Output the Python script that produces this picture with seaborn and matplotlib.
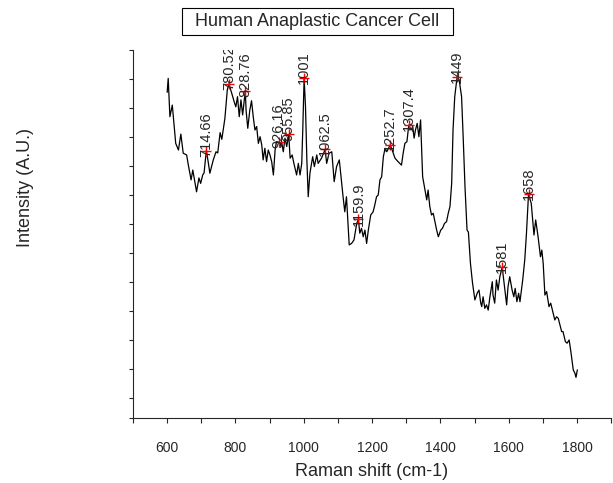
import matplotlib
matplotlib.use("Agg")
import matplotlib.pyplot as plt
from matplotlib.patches import Rectangle
import numpy as np
import pandas as pd
import seaborn as sns

# Raman spectrum (intensity in tick units)
shift = [
    600, 603, 608, 615, 625, 633, 640, 647, 657, 662, 670, 675, 681, 686, 693, 698,
    704, 708, 714.66, 720, 725, 735, 743, 748, 755, 760, 769, 776, 780.52, 789, 796,
    801, 806, 811, 816, 821, 828.76, 831, 836, 842, 847, 852, 857, 862, 867, 872,
    877, 881, 886, 891, 896, 901, 906, 911, 916, 920, 926.16, 930, 935, 940, 945,
    950, 955.85, 960, 966, 971, 979, 984, 989, 994, 997, 1001, 1005, 1009, 1013,
    1018, 1026, 1031, 1038, 1042, 1052, 1062.5, 1067, 1074, 1082, 1089, 1096, 1104,
    1111, 1115, 1120, 1125, 1129, 1133, 1140, 1147, 1155, 1159.9, 1164, 1169, 1174,
    1179, 1184, 1189, 1196, 1203, 1208, 1213, 1218, 1223, 1228, 1233, 1238, 1243,
    1252.7, 1257, 1267, 1276, 1286, 1291, 1296, 1302, 1307.4, 1314, 1319, 1323,
    1327, 1332, 1337, 1342, 1348, 1355, 1360, 1364, 1369, 1374, 1379, 1384, 1389,
    1394, 1401, 1406, 1412, 1418, 1423, 1428, 1433, 1437, 1442, 1449, 1455, 1462,
    1467, 1472, 1478, 1482, 1488, 1494, 1501, 1508, 1513, 1518, 1521, 1525, 1530,
    1535, 1540, 1545, 1552, 1554, 1559, 1564, 1569, 1574, 1581, 1587, 1594, 1598,
    1603, 1610, 1615, 1619, 1624, 1629, 1633, 1641, 1647, 1652, 1658, 1666, 1674,
    1679, 1686, 1693, 1697, 1701, 1706, 1711, 1718, 1723, 1728, 1735, 1740, 1745,
    1750, 1755, 1759, 1766, 1771, 1777, 1782, 1789, 1794, 1797, 1801,
]
intensity = [
    10.54, 11.02, 9.70, 10.10, 8.78, 8.55, 9.10, 8.44, 8.38, 8.03, 7.52, 7.86, 7.46,
    7.11, 7.59, 7.40, 7.69, 7.76, 8.53, 8.15, 7.75, 8.21, 8.49, 8.45, 9.15, 8.92,
    9.64, 10.62, 10.83, 10.51, 10.22, 10.04, 10.39, 9.70, 10.28, 9.76, 10.60, 9.93,
    9.30, 9.93, 10.25, 9.70, 9.24, 9.36, 8.78, 9.01, 8.72, 8.21, 8.61, 8.15, 8.55,
    8.38, 8.15, 7.69, 8.55, 8.84, 8.82, 8.67, 8.84, 8.49, 8.96, 8.67, 9.09, 8.27,
    8.38, 8.09, 7.69, 8.09, 7.69, 8.09, 9.24, 11.04, 10.04, 8.21, 6.94, 7.75, 8.32,
    7.98, 8.38, 8.09, 8.27, 8.57, 8.09, 8.44, 8.49, 7.46, 7.98, 8.21, 7.40, 6.94,
    6.42, 6.94, 6.14, 5.28, 5.33, 5.45, 6.02, 6.16, 5.68, 5.85, 5.56, 5.79, 5.33,
    5.79, 6.31, 6.42, 6.66, 6.94, 7.00, 7.52, 7.63, 8.32, 8.61, 8.49, 8.72, 8.61,
    8.27, 8.15, 8.03, 8.44, 8.78, 8.84, 9.41, 9.24, 9.36, 8.96, 9.24, 9.47, 9.01,
    9.59, 7.63, 7.17, 6.83, 7.17, 6.60, 6.31, 6.37, 6.08, 5.79, 5.56, 5.79, 5.85,
    6.02, 6.08, 6.37, 6.60, 7.40, 9.24, 10.39, 11.08, 10.97, 10.39, 8.90, 7.29,
    5.79, 5.72, 4.64, 3.97, 3.38, 3.62, 3.72, 3.28, 3.15, 3.49, 3.09, 3.21, 3.03,
    3.49, 4.01, 3.55, 3.27, 4.07, 3.72, 4.18, 4.51, 3.90, 3.21, 3.84, 4.18, 3.72,
    3.49, 3.78, 3.32, 3.61, 3.32, 4.07, 4.76, 5.68, 7.03, 6.71, 5.62, 6.14, 5.56,
    4.87, 5.10, 4.64, 3.55, 3.67, 3.15, 3.27, 3.03, 2.69, 2.80, 2.75, 2.52, 2.29,
    2.29, 1.94, 1.89, 2.00, 1.60, 0.97, 0.85, 0.71, 0.97,
]

# labelled peaks
peak_shift = [714.66, 780.52, 828.76, 926.16, 955.85, 1001, 1062.5,
              1159.9, 1252.7, 1307.4, 1449, 1581, 1658]
peak_intensity = [8.53, 10.83, 10.60, 8.82, 9.09, 11.04, 8.57,
                  6.16, 8.72, 9.41, 11.08, 4.51, 7.03]
peak_labels = ["714.66", "780.52", "828.76", "926.16", "955.85", "1001", "1062.5",
               "1159.9", "1252.7", "1307.4", "1449", "1581", "1658"]

x_ticks = [600, 800, 1000, 1200, 1400, 1600, 1800]

sns.set_style("ticks")
plt.rcParams["font.family"] = ["Liberation Sans", "DejaVu Sans"]

spectrum = pd.DataFrame({"shift": shift, "intensity": intensity})
peaks = pd.DataFrame({"shift": peak_shift, "intensity": peak_intensity})

fig = plt.figure(figsize=(6.13, 4.83), dpi=100)
ax = fig.add_axes([0.217, 0.1346, 0.78, 0.7619])

sns.lineplot(data=spectrum, x="shift", y="intensity", color="black",
             linewidth=0.9, sort=False, ax=ax)
sns.scatterplot(data=peaks, x="shift", y="intensity", marker="+", color="red",
                s=45, linewidth=1.0, ax=ax, zorder=3)

for px, py, lab in zip(peak_shift, peak_intensity, peak_labels):
    ax.annotate(lab, (px, py), xytext=(0, -4.5), textcoords="offset points",
                rotation=90, ha="center", va="bottom", fontsize=10.5,
                clip_on=True)

ymin = -0.69
ax.set_xlim(500, 1900)
ax.set_ylim(ymin, 12)
ax.set_xticks(x_ticks)
ax.set_xticks(np.arange(500, 1901, 100), minor=True)
ax.set_yticks(list(range(13)) + [ymin])
ax.set_yticklabels([])
ax.tick_params(axis="x", which="both", direction="out", length=3.6,
               width=0.8, pad=13, labelsize=10)
ax.tick_params(axis="y", direction="out", length=3.1, width=0.8)
ax.set_xlabel("")
ax.set_ylabel("")
sns.despine(ax=ax)
for s in ["left", "bottom"]:
    ax.spines[s].set_linewidth(0.8)

fig.text(0.606, 0.023, "Raman shift (cm-1)", ha="center", va="center", fontsize=13)
fig.text(0.041, 0.611, "Intensity (A.U.)", ha="center", va="center",
         rotation=90, fontsize=13)

# boxed title
fig.text(0.5175, 0.9555, "Human Anaplastic Cancer Cell", ha="center",
         va="center", fontsize=13)
fig.patches.append(Rectangle((181.7 / 613, 1 - 35 / 483), 271 / 613, 27 / 483,
                             transform=fig.transFigure, fill=False,
                             edgecolor="black", linewidth=0.8))

fig.savefig("out.png", dpi=100)
